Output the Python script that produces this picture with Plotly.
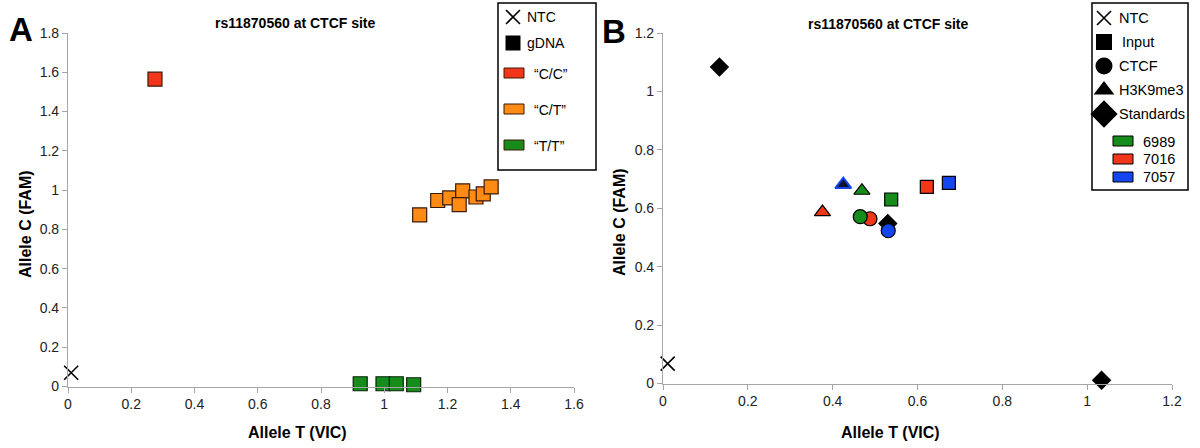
import plotly.graph_objects as go

# ---------------- data ----------------
# Panel A
ntc_a_x = [0.01]
ntc_a_y = [0.07]
cc_x = [0.275]
cc_y = [1.565]
ct_x = [1.112, 1.169, 1.207, 1.248, 1.237, 1.290, 1.313, 1.338]
ct_y = [0.874, 0.947, 0.960, 0.996, 0.926, 0.965, 0.981, 1.016]
tt_x = [0.924, 0.996, 1.038, 1.093]
tt_y = [0.014, 0.014, 0.014, 0.009]

# Panel B (samples order: 6989, 7016, 7057)
samples = ["6989", "7016", "7057"]
input_x = [0.538, 0.622, 0.674]
input_y = [0.630, 0.673, 0.687]
ctcf_x = [0.465, 0.488, 0.531]
ctcf_y = [0.571, 0.564, 0.523]
h3_x = [0.469, 0.376, 0.425]
h3_y = [0.660, 0.587, 0.681]
std_x = [0.133, 0.530, 1.034]
std_y = [1.084, 0.548, 0.011]
ntc_b_x = [0.011]
ntc_b_y = [0.068]

xticks_a = [0, 0.2, 0.4, 0.6, 0.8, 1, 1.2, 1.4, 1.6]
yticks_a = [0, 0.2, 0.4, 0.6, 0.8, 1, 1.2, 1.4, 1.6, 1.8]
xticks_b = [0, 0.2, 0.4, 0.6, 0.8, 1, 1.2]
yticks_b = [0, 0.2, 0.4, 0.6, 0.8, 1, 1.2]

RED = "#F2361A"
ORANGE = "#FF8A14"
GREEN = "#168C1A"
BLUE = "#1446F0"
sample_colors = [GREEN, RED, BLUE]
EDGE = "#3a1a0a"
FONT = "Liberation Sans, Arial, Helvetica, sans-serif"
AXC = "#a6a6a6"

W, H = 1200, 448


def px(x):
    return x / W


def py(y):
    return 1 - y / H


fig = go.Figure()


def pts(x, y, ax, symbol, size, color, lw=1.2, lc="black"):
    fig.add_trace(go.Scatter(x=x, y=y, mode="markers", xaxis=ax[0], yaxis=ax[1],
                             marker=dict(symbol=symbol, size=size, color=color, opacity=1,
                                         line=dict(width=lw, color=lc)),
                             cliponaxis=False, showlegend=False))


# ---- Panel A traces ----
pts(ntc_a_x, ntc_a_y, ("x", "y"), "x-thin", 14, "black", 1.6, "black")
pts(cc_x, cc_y, ("x", "y"), "square", 14, RED, 1.2, EDGE)
pts(ct_x, ct_y, ("x", "y"), "square", 14, ORANGE, 1.2, EDGE)
pts(tt_x, tt_y, ("x", "y"), "square", 14, GREEN, 1.2, "#0a250a")

# ---- Panel B traces ----
pts(ntc_b_x, ntc_b_y, ("x2", "y2"), "x-thin", 14, "black", 1.6, "black")
pts(std_x, std_y, ("x2", "y2"), "diamond", 15, "black", 0, "black")
pts(input_x, input_y, ("x2", "y2"), "square", 13, sample_colors)
# draw so that 6989 (green) circle sits on top of 7016 (red)
pts(ctcf_x[::-1], ctcf_y[::-1], ("x2", "y2"), "circle", 14, sample_colors[::-1])
pts(h3_x, h3_y, ("x2", "y2"), "triangle-up", 14, [GREEN, RED, "#101030"],
    [1.2, 1.2, 2], ["black", "black", BLUE])

# ---- legend symbols on a pixel overlay axis ----
leg_sym_x = [513, 513, 1104, 1104, 1104, 1104, 1104]
leg_sym_y = [17, 43, 18, 42, 66, 90, 114]
leg_syms = ["x-thin", "square", "x-thin", "square", "circle", "triangle-up", "diamond"]
leg_sizes = [14, 15, 14, 16, 17, 18, 21]
for sx, sy, sym, sz in zip(leg_sym_x, leg_sym_y, leg_syms, leg_sizes):
    fig.add_trace(go.Scatter(x=[sx], y=[sy], mode="markers", xaxis="x3", yaxis="y3",
                             marker=dict(symbol=sym, size=sz, color="#000000", opacity=1,
                                         line=dict(width=1.6 if "x" in sym else 0, color="#000000")),
                             cliponaxis=False, showlegend=False, hoverinfo="skip"))

axis_common = dict(showgrid=False, zeroline=False, showline=True, linecolor=AXC, linewidth=1.2,
                   ticks="outside", ticklen=5, tickcolor=AXC, tickwidth=1, automargin=False,
                   tickfont=dict(family=FONT, size=14, color="#222"))

yA0, yA1 = py(386.5), py(33)
yB0, yB1 = py(383.5), py(33)

fig.update_layout(
    width=W, height=H, margin=dict(l=0, r=0, t=0, b=0, autoexpand=False),
    paper_bgcolor="white", plot_bgcolor="rgba(0,0,0,0)",
    font=dict(family=FONT, color="black"),
    xaxis=dict(domain=[px(68), px(574)], range=[0, 1.6], tickvals=xticks_a,
               ticktext=[f"{v:g}" for v in xticks_a], anchor="y", **axis_common),
    yaxis=dict(domain=[yA0, yA1], range=[0, 1.8], tickvals=yticks_a,
               ticktext=[f"{v:g}" for v in yticks_a], anchor="x", **axis_common),
    xaxis2=dict(domain=[px(663), px(1172)], range=[0, 1.2], tickvals=xticks_b,
                ticktext=[f"{v:g}" for v in xticks_b], anchor="y2", **axis_common),
    yaxis2=dict(domain=[yB0, yB1], range=[0, 1.2], tickvals=yticks_b,
                ticktext=[f"{v:g}" for v in yticks_b], anchor="x2", **axis_common),
    xaxis3=dict(domain=[0, 1], range=[0, W], visible=False, fixedrange=True, automargin=False),
    yaxis3=dict(domain=[0, 1], range=[H, 0], visible=False, fixedrange=True, anchor="x3", automargin=False),
)

shapes = []
# legend boxes
shapes.append(dict(type="rect", xref="paper", yref="paper", x0=px(498), x1=px(596), y0=py(170), y1=py(3),
                   line=dict(color="black", width=1.5), fillcolor="white", layer="below"))
shapes.append(dict(type="rect", xref="paper", yref="paper", x0=px(1092), x1=px(1188), y0=py(190), y1=py(3),
                   line=dict(color="black", width=1.5), fillcolor="white", layer="below"))
# colour swatches
legA_cols = [RED, ORANGE, GREEN]
legA_y = [73, 109, 145]
for c, yy in zip(legA_cols, legA_y):
    shapes.append(dict(type="rect", xref="paper", yref="paper", x0=px(504), x1=px(524),
                       y0=py(yy + 5), y1=py(yy - 5), line=dict(color=EDGE, width=1), fillcolor=c))
legB_y = [141, 159, 177]
for c, yy in zip(sample_colors, legB_y):
    shapes.append(dict(type="rect", xref="paper", yref="paper", x0=px(1113), x1=px(1133),
                       y0=py(yy + 5), y1=py(yy - 5), line=dict(color="black", width=1), fillcolor=c))
fig.update_layout(shapes=shapes)

ann = []


def text(x, y, s, size=14, bold=False, xanchor="left", angle=0):
    ann.append(dict(x=px(x), y=py(y), xref="paper", yref="paper", showarrow=False,
                    text=f"<b>{s}</b>" if bold else s, xanchor=xanchor, yanchor="middle",
                    textangle=angle, font=dict(family=FONT, size=size, color="black")))


text(21, 30, "A", size=33, bold=True, xanchor="center")
text(614, 32, "B", size=33, bold=True, xanchor="center")
text(295, 23, "rs11870560 at CTCF site", size=14, bold=True, xanchor="center")
text(888, 24, "rs11870560 at CTCF site", size=14, bold=True, xanchor="center")
text(297, 432, "Allele T (VIC)", size=16, bold=True, xanchor="center")
text(890, 432, "Allele T (VIC)", size=16, bold=True, xanchor="center")
text(25, 224, "Allele C (FAM)", size=16, bold=True, xanchor="center", angle=-90)
text(619, 222, "Allele C (FAM)", size=16, bold=True, xanchor="center", angle=-90)

# legend A texts
legA_labels = ["NTC", "gDNA", "“C/C”", "“C/T”", "“T/T”"]
legA_lx = [525, 525, 532, 532, 532]
legA_ly = [17, 43, 74, 110, 146]
for s, xx, yy in zip(legA_labels, legA_lx, legA_ly):
    text(xx, yy, s, size=14)
# legend B texts
legB_labels = ["NTC", "Input", "CTCF", "H3K9me3", "Standards"]
legB_lx = [1117, 1120, 1117, 1117, 1117]
legB_ly = [18, 42, 66, 90, 114]
for s, xx, yy in zip(legB_labels, legB_lx, legB_ly):
    text(xx, yy, s, size=14.5)
for s, yy in zip(samples, [142, 159, 177]):
    text(1141, yy, s, size=14.5)

fig.update_layout(annotations=ann)

fig.write_html("out.html", config={"displayModeBar": False},
               post_script="document.body.style.margin='0';document.body.style.overflow='hidden';")
